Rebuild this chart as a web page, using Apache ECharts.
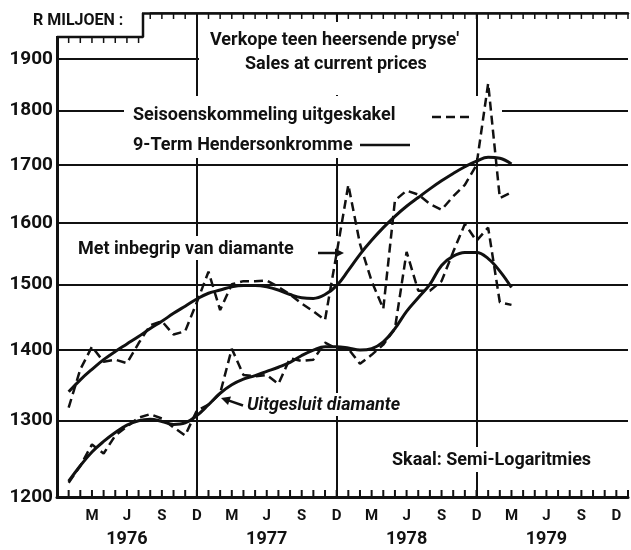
<!DOCTYPE html>
<html>
<head>
<meta charset="utf-8">
<script src="https://cdn.jsdelivr.net/npm/echarts@6/dist/echarts.min.js"></script>
<style>
  html, body { margin: 0; padding: 0; background: #fff; }
  #chart { width: 631px; height: 550px; }
</style>
</head>
<body>
<div id="chart"></div>
<script>
const INK = '#111';
const FONT = 'Roboto, "Open Sans", sans-serif';

// axis runs monthly from Dec 1975 to Jan 1980
const firstMonth = [1975, 12];
const lastMonth = [1980, 1];
const categories = [];
for (let y = firstMonth[0], m = firstMonth[1]; y < lastMonth[0] || (y === lastMonth[0] && m <= lastMonth[1]); m++) {
  if (m > 12) { m = 1; y++; }
  categories.push(`${y}-${String(m).padStart(2, '0')}`);
}

const monthLetters = { '03': 'M', '06': 'J', '09': 'S', '12': 'D' };
const yearLabelMonth = '06';
const yTicks = [1200, 1300, 1400, 1500, 1600, 1700, 1800, 1900];
const yearEnds = ['1976-12', '1977-12', '1978-12'];
const dataStart = '1976-01';

// Met inbegrip van diamante — seisoenskommeling uitgeskakel (Jan 1976 - Mar 1979)
const inclAdjusted = [
  1318, 1372, 1405, 1383, 1386, 1381, 1410, 1437, 1443, 1423, 1428, 1472,
  1520, 1460, 1500, 1505, 1505, 1506, 1496, 1484, 1470, 1458, 1445, 1550,
  1665, 1565, 1505, 1462, 1638, 1655, 1648, 1632, 1622, 1645, 1665, 1700,
  1852, 1642, 1652
];
// Met inbegrip van diamante — 9-term Hendersonkromme
const inclHenderson = [
  1340, 1357, 1372, 1386, 1398, 1409, 1420, 1432, 1443, 1455, 1466, 1477,
  1486, 1491, 1496, 1498, 1498, 1496, 1491, 1484, 1479, 1478, 1484, 1498,
  1522, 1548, 1571, 1592, 1611, 1628, 1643, 1658, 1672, 1685, 1697, 1707,
  1714, 1712, 1702
];
// Uitgesluit diamante — seisoenskommeling uitgeskakel
const exclAdjusted = [
  1218, 1240, 1268, 1256, 1280, 1292, 1304, 1309, 1303, 1291, 1280, 1314,
  1322, 1338, 1402, 1364, 1362, 1364, 1351, 1388, 1384, 1386, 1411, 1402,
  1402, 1380, 1393, 1408, 1432, 1552, 1490, 1490, 1505, 1552, 1598, 1570,
  1592, 1472, 1468
];
// Uitgesluit diamante — 9-term Hendersonkromme
const exclHenderson = [
  1220, 1240, 1258, 1272, 1284, 1294, 1300, 1302, 1299, 1295, 1297, 1307,
  1322, 1338, 1350, 1358, 1363, 1369, 1375, 1382, 1392, 1400, 1405, 1405,
  1403, 1400, 1402, 1412, 1432, 1458, 1479, 1500, 1530, 1545, 1551, 1551,
  1541, 1521, 1495
];

const startIndex = categories.indexOf(dataStart);
const toPairs = values => values.map((v, i) => [categories[startIndex + i], v]);

const adjustedStyle = { color: INK, width: 2.5, type: [9, 5] };
const hendersonStyle = { color: INK, width: 3 };

const option = {
  animation: false,
  backgroundColor: '#fff',
  textStyle: { fontFamily: FONT, color: INK },
  grid: { left: 57, right: 0, top: 13, bottom: 53 },
  xAxis: [
    {
      type: 'category',
      position: 'bottom',
      data: categories,
      boundaryGap: false,
      axisLine: { show: true, lineStyle: { color: INK, width: 3 } },
      axisTick: { show: false },
      axisLabel: {
        interval: 0,
        margin: 12,
        color: INK,
        fontSize: 15,
        fontWeight: 'bold',
        formatter: (v, i) => (i === 0 ? '' : monthLetters[v.slice(5)] || '')
      },
      splitLine: { show: false }
    },
    {
      type: 'category',
      position: 'bottom',
      data: categories,
      boundaryGap: false,
      axisLine: { show: false },
      axisTick: { show: false },
      axisLabel: {
        interval: 0,
        margin: 33,
        color: INK,
        fontSize: 18,
        fontWeight: 'bold',
        formatter: v => (v.slice(5) === yearLabelMonth ? v.slice(0, 4) : '')
      },
      splitLine: { show: false }
    },
    {
      type: 'category',
      position: 'top',
      data: categories,
      boundaryGap: false,
      axisLine: { show: true, lineStyle: { color: INK, width: 2.5 } },
      axisTick: { show: false },
      axisLabel: { show: false },
      splitLine: { show: false }
    }
  ],
  yAxis: {
    type: 'log',
    logBase: 10,
    min: 1200,
    max: 1994,
    axisLine: { show: true, lineStyle: { color: INK, width: 3 } },
    axisTick: { show: false },
    axisLabel: { show: false },
    splitLine: { show: false }
  },
  series: [
    {
      // gridlines and the value labels on the left
      type: 'line',
      data: [],
      z: 1,
      silent: true,
      markLine: {
        silent: true,
        symbol: ['none', 'none'],
        animation: false,
        lineStyle: { color: INK, width: 2, type: 'solid' },
        label: {
          show: true,
          position: 'start',
          distance: 4,
          color: INK,
          fontSize: 19,
          fontWeight: 'bold',
          formatter: p => p.value
        },
        data: [
          ...yTicks.map(v => ({ yAxis: v })),
          ...yearEnds.map(c => ({ xAxis: c, label: { show: false } }))
        ]
      }
    },
    { name: 'inclAdjusted', type: 'line', z: 10, symbol: 'none', lineStyle: adjustedStyle, data: toPairs(inclAdjusted) },
    { name: 'inclHenderson', type: 'line', z: 10, symbol: 'none', smooth: 0.4, lineStyle: hendersonStyle, data: toPairs(inclHenderson) },
    { name: 'exclAdjusted', type: 'line', z: 10, symbol: 'none', lineStyle: adjustedStyle, data: toPairs(exclAdjusted) },
    { name: 'exclHenderson', type: 'line', z: 10, symbol: 'none', smooth: 0.4, lineStyle: hendersonStyle, data: toPairs(exclHenderson) }
  ]
};

const chart = echarts.init(document.getElementById('chart'), null, { renderer: 'canvas' });
chart.setOption(option);

// white patches where the printed chart breaks its rules around the text
const mask = (x, y, width, height) => ({
  type: 'rect', z: 5,
  shape: { x, y, width, height },
  style: { fill: '#fff' }
});
const label = (text, x, y, size, extra = {}) => ({
  type: 'text', z: 20, x, y,
  style: Object.assign({
    text,
    fill: INK,
    font: `bold ${size}px ${FONT}`,
    textAlign: 'left', align: 'left',
    textVerticalAlign: 'middle', verticalAlign: 'middle'
  }, extra)
});
const stroke = (points, dash, width = 2.5) => ({
  type: 'polyline', z: 20,
  shape: { points },
  style: { stroke: INK, lineWidth: width, fill: null, lineDash: dash || null, lineJoin: 'bevel' }
});
const head = points => ({
  type: 'polygon', z: 20,
  shape: { points },
  style: { fill: INK }
});

const plotLeft = 57;
const plotRight = 631;
const plotTop = 13;
const plotBottom = 497;
const notchY = 37;
const notchX = 143;

// monthly ticks, placed from the category axis
const monthPixel = i => {
  let p;
  try { p = chart.convertToPixel({ xAxisIndex: 0 }, i); } catch (e) { p = undefined; }
  if (Array.isArray(p)) p = p[0];
  if (!Number.isFinite(p)) {
    try { p = chart.convertToPixel({ seriesIndex: 1 }, [categories[i], 1500]); } catch (e) { p = undefined; }
    if (Array.isArray(p)) p = p[0];
  }
  if (!Number.isFinite(p)) p = plotLeft + i * (plotRight - plotLeft) / (categories.length - 1);
  return Number(p);
};
const monthX = categories.map((c, i) => monthPixel(i));
const tickComb = (xs, base, len) => xs.flatMap(x => [[x, base], [x, base + len], [x, base]]);

chart.setOption({
  graphic: {
    elements: [
      mask(0, 0, notchX - 1, notchY - 1),
      mask(199, 22, 277, 73),
      mask(124, 96, 378, 62),
      mask(74, 236, 272, 24),
      mask(218, 393, 200, 23),
      mask(388, 447, 216, 25),
      stroke(tickComb(monthX.filter(x => x > plotLeft + 1), plotBottom, -7), null, 2),
      stroke(tickComb(monthX.filter(x => x > notchX + 2), plotTop, 6), null, 1.5),
      stroke(tickComb(monthX.filter(x => x > plotLeft + 3 && x < notchX - 2), notchY, 6), null, 1.5),
      stroke([[plotLeft, notchY], [notchX, notchY], [notchX, plotTop]]),
      label('R MILJOEN :', 33, 21, 16),
      label('Verkope teen heersende pryse\'', 210, 40, 18),
      label('Sales at current prices', 245, 64, 18),
      label('Seisoenskommeling uitgeskakel', 133, 115, 18),
      stroke([[432, 117], [470, 117]], [9, 5]),
      label('9-Term Hendersonkromme', 133, 145, 18),
      stroke([[360, 145], [410, 145]]),
      label('Met inbegrip van diamante', 78, 249, 18),
      stroke([[318, 253], [336, 253]]),
      head([[344, 253], [335, 248.5], [335, 257.5]]),
      label('Uitgesluit diamante', 247, 405, 18, { font: `italic bold 18px ${FONT}` }),
      stroke([[243, 405.5], [229, 400.6]]),
      head([[221, 398], [231, 396.5], [228, 405]]),
      label('Skaal: Semi-Logaritmies', 392, 460, 18)
    ]
  }
});
</script>
</body>
</html>
